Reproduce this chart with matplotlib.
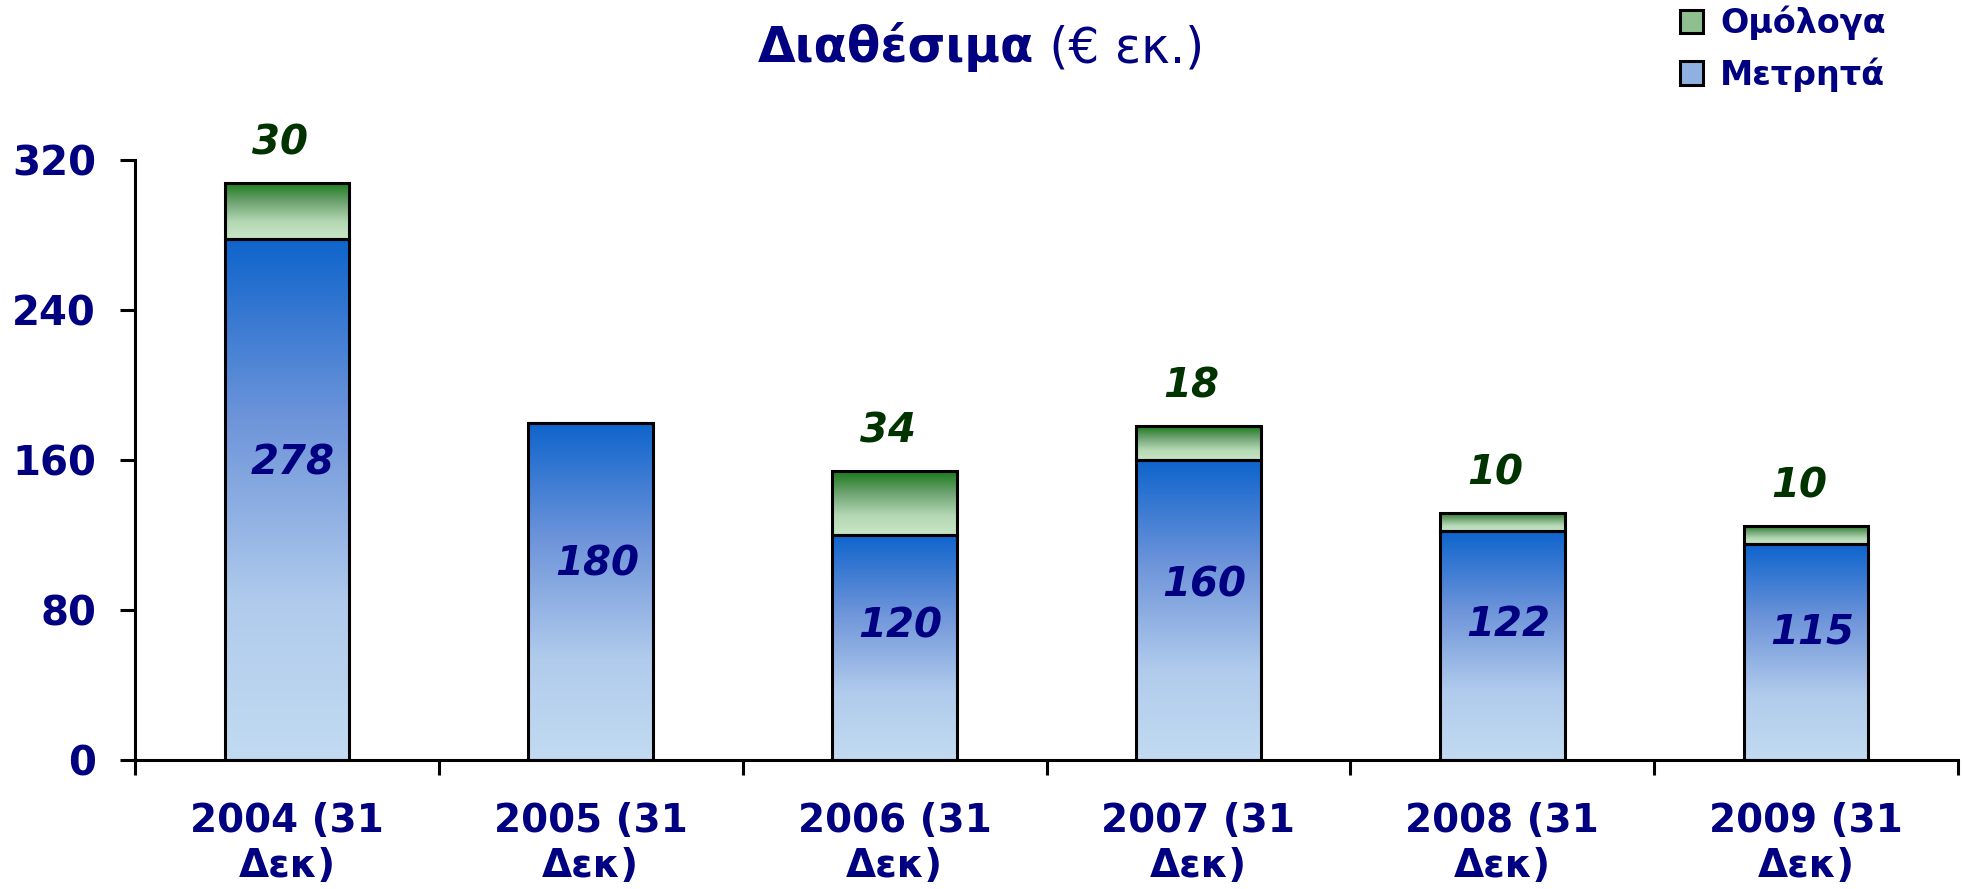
import numpy as np
import matplotlib.pyplot as plt
from matplotlib.colors import LinearSegmentedColormap
from matplotlib.patches import Patch

years = ['2004 (31\nΔεκ)', '2005 (31\nΔεκ)', '2006 (31\nΔεκ)',
         '2007 (31\nΔεκ)', '2008 (31\nΔεκ)', '2009 (31\nΔεκ)']
cash = [278, 180, 120, 160, 122, 115]
bonds = [30, 0, 34, 18, 10, 10]

navy = '#000080'
dkgreen = '#003300'

blue_cm = LinearSegmentedColormap.from_list(
    'b', [(0, '#c2dbf2'), (0.3, '#b0cbec'), (0.65, '#6f95da'), (1, '#0e64cc')])
green_cm = LinearSegmentedColormap.from_list(
    'g', [(0, '#c8e6c6'), (0.3, '#b4d8b4'), (0.65, '#6fa472'), (1, '#1a7a1a')])

plt.rcParams['font.family'] = 'DejaVu Sans'
fig = plt.figure(figsize=(19.62, 8.89), dpi=100)
ax = fig.add_axes([135 / 1962, 1 - 760 / 889, (1958 - 135) / 1962, 600 / 889])

x = np.arange(len(years))
w = 0.41
lw = 2.2
b1 = ax.bar(x, cash, w, color='none', edgecolor='black', linewidth=lw, zorder=3)
b2 = ax.bar(x, bonds, w, bottom=cash, color='none', edgecolor='black',
            linewidth=lw, zorder=3)

grad = np.linspace(0, 1, 256).reshape(-1, 1)


def fill_grad(bars, cmap):
    for r in bars:
        if r.get_height() <= 0:
            continue
        x0, y0 = r.get_x(), r.get_y()
        im = ax.imshow(grad, cmap=cmap, origin='lower', aspect='auto',
                       extent=[x0, x0 + r.get_width(), y0, y0 + r.get_height()],
                       zorder=2)
        im.set_clip_path(r)


fill_grad(b1, blue_cm)
fill_grad(b2, green_cm)

for i in range(len(years)):
    ax.text(x[i] + 0.02, cash[i] * 0.55 + 5, str(cash[i]), ha='center', va='center',
            fontsize=29, fontweight='bold', style='italic', color=navy, zorder=5)
    if bonds[i] > 0:
        ax.annotate(str(bonds[i]), (x[i], cash[i] + bonds[i]), xytext=(-5, 14),
                    textcoords='offset points', ha='center', va='bottom',
                    fontsize=29, fontweight='bold', style='italic',
                    color=dkgreen, zorder=5)

ax.set_xlim(-0.5, len(years) - 0.5)
ax.set_ylim(0, 320)
ax.set_yticks([0, 80, 160, 240, 320])
ax.set_xticks(x)
ax.set_xticklabels(years, fontsize=28, fontweight='bold', color=navy,
                   linespacing=1.25)
ax.set_xticks(np.arange(-0.5, len(years)), minor=True)
ax.tick_params(axis='x', which='major', length=0, pad=30)
ax.tick_params(axis='x', which='minor', length=11, width=lw, direction='out')
ax.tick_params(axis='y', length=11, width=lw, direction='out', pad=17,
               labelsize=29, labelcolor=navy)
for lab in ax.get_yticklabels():
    lab.set_fontweight('bold')
for s in ['top', 'right']:
    ax.spines[s].set_visible(False)
for s in ['left', 'bottom']:
    ax.spines[s].set_linewidth(lw)

fig.text(0.527, 0.930, 'Διαθέσιμα', ha='right', va='baseline', fontsize=35,
         fontweight='bold', color=navy)
fig.text(0.527, 0.930, ' (€ εκ.)', ha='left', va='baseline', fontsize=35,
         color=navy)

handles = [Patch(facecolor='#8fbf8f', edgecolor='black', linewidth=lw),
           Patch(facecolor='#8fb0e0', edgecolor='black', linewidth=lw)]
leg = fig.legend(handles, ['Ομόλογα', 'Μετρητά'], loc='upper left',
                 bbox_to_anchor=(1650 / 1962, 1.027), frameon=False,
                 handlelength=0.7, handleheight=0.7, handletextpad=0.5,
                 labelspacing=0.5, prop={'size': 24, 'weight': 'bold'})
for t in leg.get_texts():
    t.set_color(navy)

fig.savefig('out.png', dpi=100)
